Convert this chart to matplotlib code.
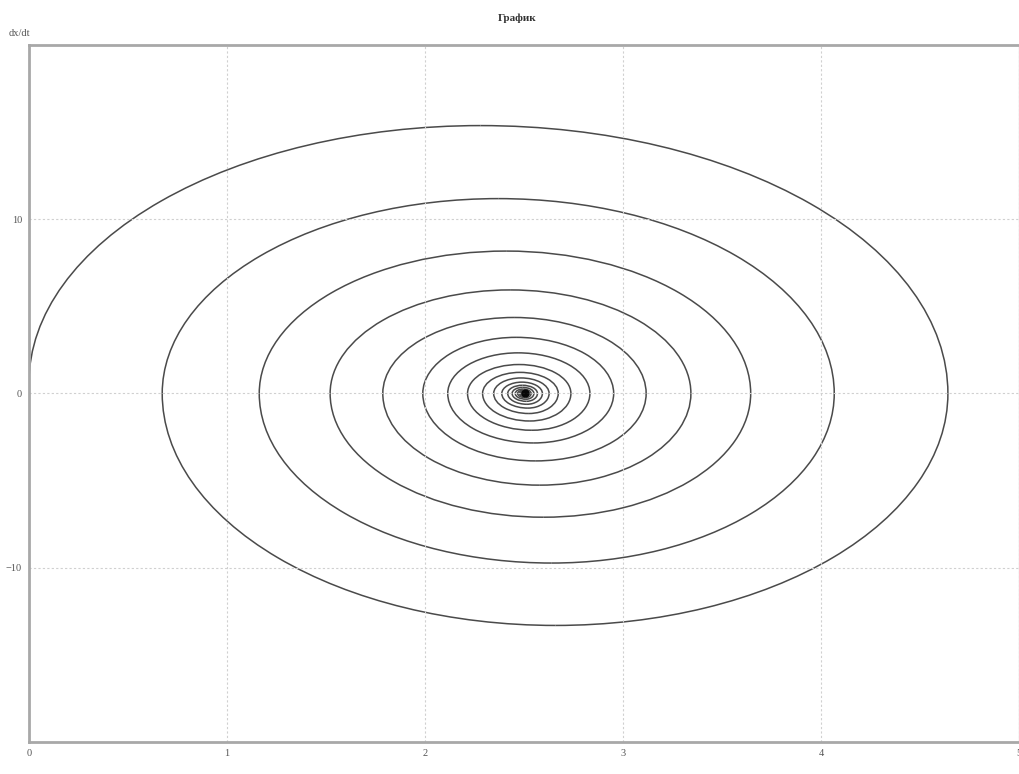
import matplotlib
matplotlib.use('Agg')
import matplotlib.pyplot as plt
from matplotlib.patches import Arc

# phase portrait: turning points of the spiral
# each turn: left crossing -> top peak -> right crossing -> bottom peak -> next left crossing
start_v = 0.6
left_x = [0.0, 0.673, 1.163, 1.521, 1.787, 1.989, 2.115, 2.215, 2.291, 2.347,
          2.388, 2.418, 2.440, 2.456, 2.468, 2.477, 2.483, 2.488, 2.4915, 2.494,
          2.4955, 2.4967, 2.4975, 2.498]
top_x = [2.28, 2.37, 2.41, 2.43, 2.45, 2.46, 2.47, 2.475, 2.48, 2.485,
         2.49, 2.492, 2.494, 2.496, 2.497, 2.498, 2.499, 2.4995, 2.5, 2.5,
         2.5, 2.5, 2.5]
top_v = [15.37, 11.18, 8.17, 5.94, 4.36, 3.22, 2.33, 1.66, 1.21, 0.89,
         0.65, 0.47, 0.35, 0.25, 0.18, 0.13, 0.10, 0.07, 0.05, 0.04,
         0.03, 0.02, 0.015]
right_x = [4.641, 4.067, 3.645, 3.343, 3.117, 2.953, 2.833, 2.737, 2.673, 2.627,
           2.593, 2.568, 2.550, 2.536, 2.526, 2.519, 2.514, 2.510, 2.508, 2.506,
           2.5045, 2.5035, 2.503]
bottom_x = [2.66, 2.64, 2.60, 2.58, 2.56, 2.55, 2.54, 2.53, 2.525, 2.52,
            2.515, 2.512, 2.51, 2.508, 2.506, 2.505, 2.504, 2.503, 2.502, 2.502,
            2.501, 2.501, 2.501]
bottom_v = [-13.31, -9.73, -7.10, -5.26, -3.87, -2.84, -2.11, -1.58, -1.15, -0.84,
            -0.62, -0.45, -0.33, -0.24, -0.18, -0.13, -0.09, -0.07, -0.05, -0.04,
            -0.03, -0.02, -0.015]
# point the spiral winds into (dark blob in the middle)
eq_x = 2.503
eq_v = 0.0

x_ticks = [0, 1, 2, 3, 4, 5]
y_ticks = [-10, 0, 10]

line_col = '#4a4a4a'
lw = 1.1

fig = plt.figure(figsize=(10.2, 7.74), dpi=100)
ax = fig.add_axes([0.0284, 0.0413, 0.9706, 0.9007])

def quarter(cx, cy, w, h, t1, t2):
    ax.add_patch(Arc((cx, cy), 2 * w, 2 * h, theta1=t1, theta2=t2,
                     color=line_col, lw=lw))

for i in range(len(top_x)):
    cy = start_v if i == 0 else 0
    # left -> top
    quarter(top_x[i], cy, top_x[i] - left_x[i], top_v[i] - cy, 90, 180)
    # top -> right
    quarter(top_x[i], 0, right_x[i] - top_x[i], top_v[i], 0, 90)
    # right -> bottom
    quarter(bottom_x[i], 0, right_x[i] - bottom_x[i], -bottom_v[i], 270, 360)
    # bottom -> next left
    quarter(bottom_x[i], 0, bottom_x[i] - left_x[i + 1], -bottom_v[i], 180, 270)

ax.plot([eq_x], [eq_v], 'o', color='black', ms=6, mew=0, alpha=0.9)

ax.set_xlim(0, 5)
ax.set_ylim(-20, 20)
ax.set_xticks(x_ticks)
ax.set_yticks(y_ticks)
ax.tick_params(length=0, labelsize=7.5, labelcolor='#555555', pad=5)
for lab in ax.get_xticklabels() + ax.get_yticklabels():
    lab.set_family('Liberation Serif')
ax.grid(True, color='#d0d0d0', lw=0.8, ls=(0, (2, 2)))
for s in ax.spines.values():
    s.set_color('#a8a8a8')
    s.set_linewidth(2.0)
ax.spines['right'].set_color('#dddddd')
ax.spines['right'].set_linewidth(1.0)

fig.text(0.507, 0.976, 'График', ha='center', va='center', fontsize=8,
         fontweight='bold', family='Liberation Serif', color='#333333')
fig.text(0.008, 0.957, 'dx/dt', ha='left', va='center', fontsize=7.5,
         family='Liberation Serif', color='#555555')

fig.savefig('out.png', dpi=100)
